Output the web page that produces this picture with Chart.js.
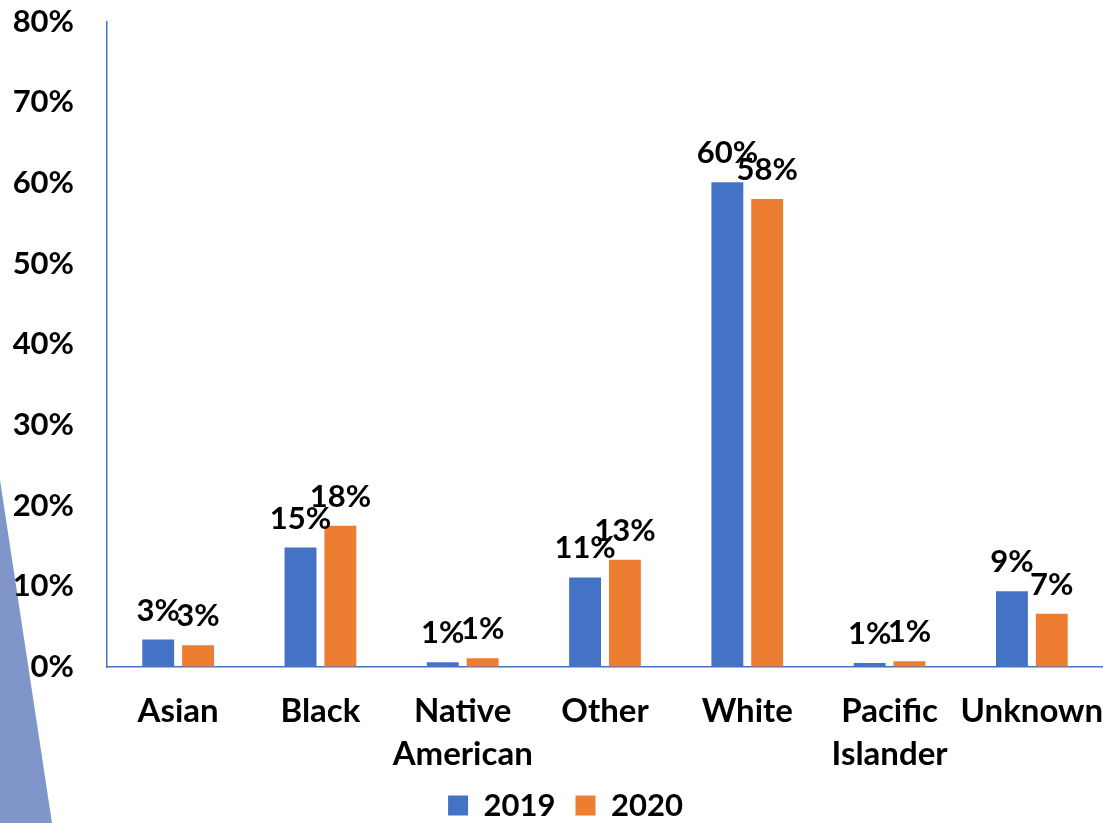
<!DOCTYPE html>
<html>
<head>
<meta charset="utf-8">
<script src="https://cdn.jsdelivr.net/npm/chart.js@4"></script>
<style>
  html, body { margin: 0; padding: 0; background: #fff; }
  #wrap { position: relative; width: 1103px; height: 823px; }
  #tri {
    position: absolute; left: 0; top: 0; width: 1103px; height: 823px;
    background: #8096c8;
    clip-path: polygon(0 480px, 52px 823px, 0 823px);
  }
  canvas { position: absolute; left: 0; top: 0; }
</style>
</head>
<body>
<div id="wrap">
  <div id="tri"></div>
  <canvas id="chart" width="1103" height="823"></canvas>
</div>
<script>
const categories = ['Asian', 'Black', ['Native', 'American'], 'Other', 'White', ['Pacific', 'Islander'], 'Unknown'];
const values2019 = [3.4, 14.8, 0.6, 11.1, 60.1, 0.5, 9.4];
const values2020 = [2.7, 17.5, 1.1, 13.3, 58.0, 0.7, 6.6];
const yTicks = [0, 10, 20, 30, 40, 50, 60, 70, 80];

const FONT = 'Lato, "Open Sans", sans-serif';
const FS = 31;

// draws "xx%" above each bar
const barLabels = {
  id: 'barLabels',
  afterDatasetsDraw(chart) {
    const ctx = chart.ctx;
    ctx.save();
    ctx.font = 'bold ' + FS + 'px ' + FONT;
    ctx.fillStyle = '#000';
    ctx.textAlign = 'center';
    ctx.textBaseline = 'alphabetic';
    chart.data.datasets.forEach((ds, i) => {
      chart.getDatasetMeta(i).data.forEach((bar, j) => {
        ctx.fillText(Math.round(ds.data[j]) + '%', bar.x, bar.y - 19);
      });
    });
    ctx.restore();
  }
};

// fixed legend box height, legend nudged right/up
const legendTweak = {
  id: 'legendTweak',
  beforeLayout(chart) {
    const lg = chart.legend;
    if (lg && !lg._fixed) {
      const fit = lg.fit;
      lg.fit = function () { fit.call(this); this.height = 46; };
      lg._fixed = true;
    }
  },
  afterLayout(chart) {
    const lg = chart.legend;
    lg.left += 14;
    lg.right += 14;
    lg.top -= 7;
    lg.bottom -= 7;
  }
};

new Chart(document.getElementById('chart'), {
  type: 'bar',
  data: {
    labels: categories,
    datasets: [
      { label: '2019', data: values2019, backgroundColor: '#4472c4' },
      { label: '2020', data: values2020, backgroundColor: '#ed7d31' }
    ]
  },
  options: {
    responsive: false,
    animation: false,
    categoryPercentage: 0.56,
    barPercentage: 0.8,
    layout: { padding: 0 },
    plugins: {
      legend: {
        position: 'bottom',
        labels: {
          font: { size: FS, weight: 'bold', family: FONT },
          color: '#000',
          boxWidth: 20,
          boxHeight: 20,
          padding: 20
        }
      },
      tooltip: { enabled: false }
    },
    scales: {
      x: {
        afterFit(scale) {
          scale.paddingLeft = 0;
          scale.paddingRight = 0;
          scale.height = 110;
        },
        grid: { display: false, drawTicks: false },
        border: { display: true, color: '#4472c4', width: 1.5 },
        ticks: {
          color: '#000',
          font: { size: 33, weight: 'bold', family: FONT, lineHeight: 1.3 },
          padding: 23,
          maxRotation: 0,
          autoSkip: false
        }
      },
      y: {
        min: 0,
        max: 80,
        afterBuildTicks(scale) { scale.ticks = yTicks.map(v => ({ value: v })); },
        afterFit(scale) { scale.width = 107; },
        grid: { display: true, drawOnChartArea: false, drawTicks: true, tickLength: 30, tickColor: 'rgba(0,0,0,0)' },
        border: { display: true, color: '#4472c4', width: 1.5 },
        ticks: {
          color: '#000',
          font: { size: FS, weight: 'bold', family: FONT },
          padding: 3,
          callback: v => v + '%'
        }
      }
    }
  },
  plugins: [barLabels, legendTweak]
});
</script>
</body>
</html>
